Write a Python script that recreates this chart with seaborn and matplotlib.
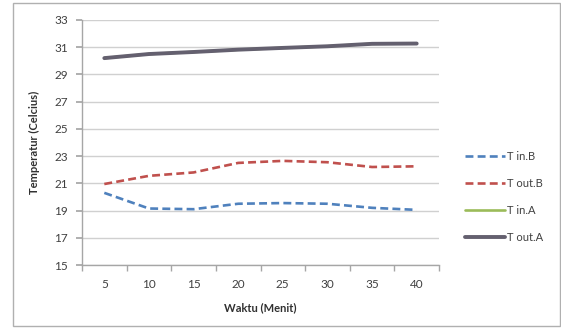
import matplotlib
matplotlib.use("Agg")
import matplotlib.pyplot as plt
import seaborn as sns
import pandas as pd
from matplotlib.patches import Rectangle

waktu = [5, 10, 15, 20, 25, 30, 35, 40]
t_in_b = [20.3, 19.15, 19.1, 19.5, 19.55, 19.5, 19.2, 19.05]
t_out_b = [20.95, 21.55, 21.8, 22.5, 22.65, 22.55, 22.2, 22.25]
t_in_a = [30.2, 30.5, 30.65, 30.82, 30.95, 31.07, 31.25, 31.27]
t_out_a = [30.2, 30.5, 30.65, 30.82, 30.95, 31.07, 31.25, 31.27]
series_names = ["T in.B", "T out.B", "T in.A", "T out.A"]
y_ticks = [15, 17, 19, 21, 23, 25, 27, 29, 31, 33]

sns.set_theme(style="white")
plt.rcParams["font.family"] = ["Lato", "DejaVu Sans"]

df = pd.DataFrame({
    "Waktu": waktu * 4,
    "Temp": t_in_b + t_out_b + t_in_a + t_out_a,
    "Seri": sum([[n] * len(waktu) for n in series_names], []),
})

palette = {"T in.B": "#4f81bd", "T out.B": "#c0504d", "T in.A": "#9bbb59", "T out.A": "#64606f"}
dashes = {"T in.B": (3, 1.6), "T out.B": (3, 1.6), "T in.A": "", "T out.A": ""}

fig = plt.figure(figsize=(5.61, 3.30), dpi=100)
fig.patches.append(Rectangle((13 / 561, 1 - 326 / 330), (560 - 13) / 561, (326 - 3) / 330,
                             transform=fig.transFigure, fill=False, edgecolor="#b0b0b0", lw=1))
ax = fig.add_axes([82 / 561, 1 - 265 / 330, (439 - 82) / 561, (265 - 20) / 330])

sns.lineplot(data=df, x="Waktu", y="Temp", hue="Seri", style="Seri", hue_order=series_names,
             style_order=series_names, palette=palette, dashes=dashes, ax=ax, legend=False)
for line, name in zip(ax.get_lines(), series_names):
    line.set_linewidth(2.8 if name == "T out.A" else 1.9)

ax.set_xlim(2.5, 42.5)
ax.set_ylim(15, 33)
ax.set_yticks(y_ticks)
ax.set_xticks(waktu)
ax.set_xticks([7.5 + 5 * i for i in range(-1, 8)], minor=True)
ax.grid(axis="y", color="#d0d0d0", lw=1)
ax.set_axisbelow(True)
for s in ["top", "right"]:
    ax.spines[s].set_visible(False)
for s in ["left", "bottom"]:
    ax.spines[s].set_color("#a6a6a6")
    ax.spines[s].set_linewidth(1)
ax.tick_params(axis="y", which="major", length=4, color="#a6a6a6", labelsize=8.5, labelcolor="#404040", pad=6, left=True)
ax.tick_params(axis="x", which="major", length=0, labelsize=8.5, labelcolor="#404040", pad=10)
ax.tick_params(axis="x", which="minor", length=4, color="#a6a6a6", bottom=True)

ax.set_xlabel("Waktu (Menit)", fontsize=8, fontweight="bold", color="#303030", labelpad=9)
ax.set_ylabel("Temperatur (Celcius)", fontsize=8, fontweight="bold", color="#303030", labelpad=10)

handles = ax.get_lines()[:4]
fig.legend(handles, series_names, loc="center left", bbox_to_anchor=(455 / 561, 1 - 197 / 330),
           frameon=False, fontsize=8, handlelength=3.6, labelspacing=1.45, handletextpad=0.2,
           labelcolor="#404040")

fig.savefig("out.png", dpi=100)
